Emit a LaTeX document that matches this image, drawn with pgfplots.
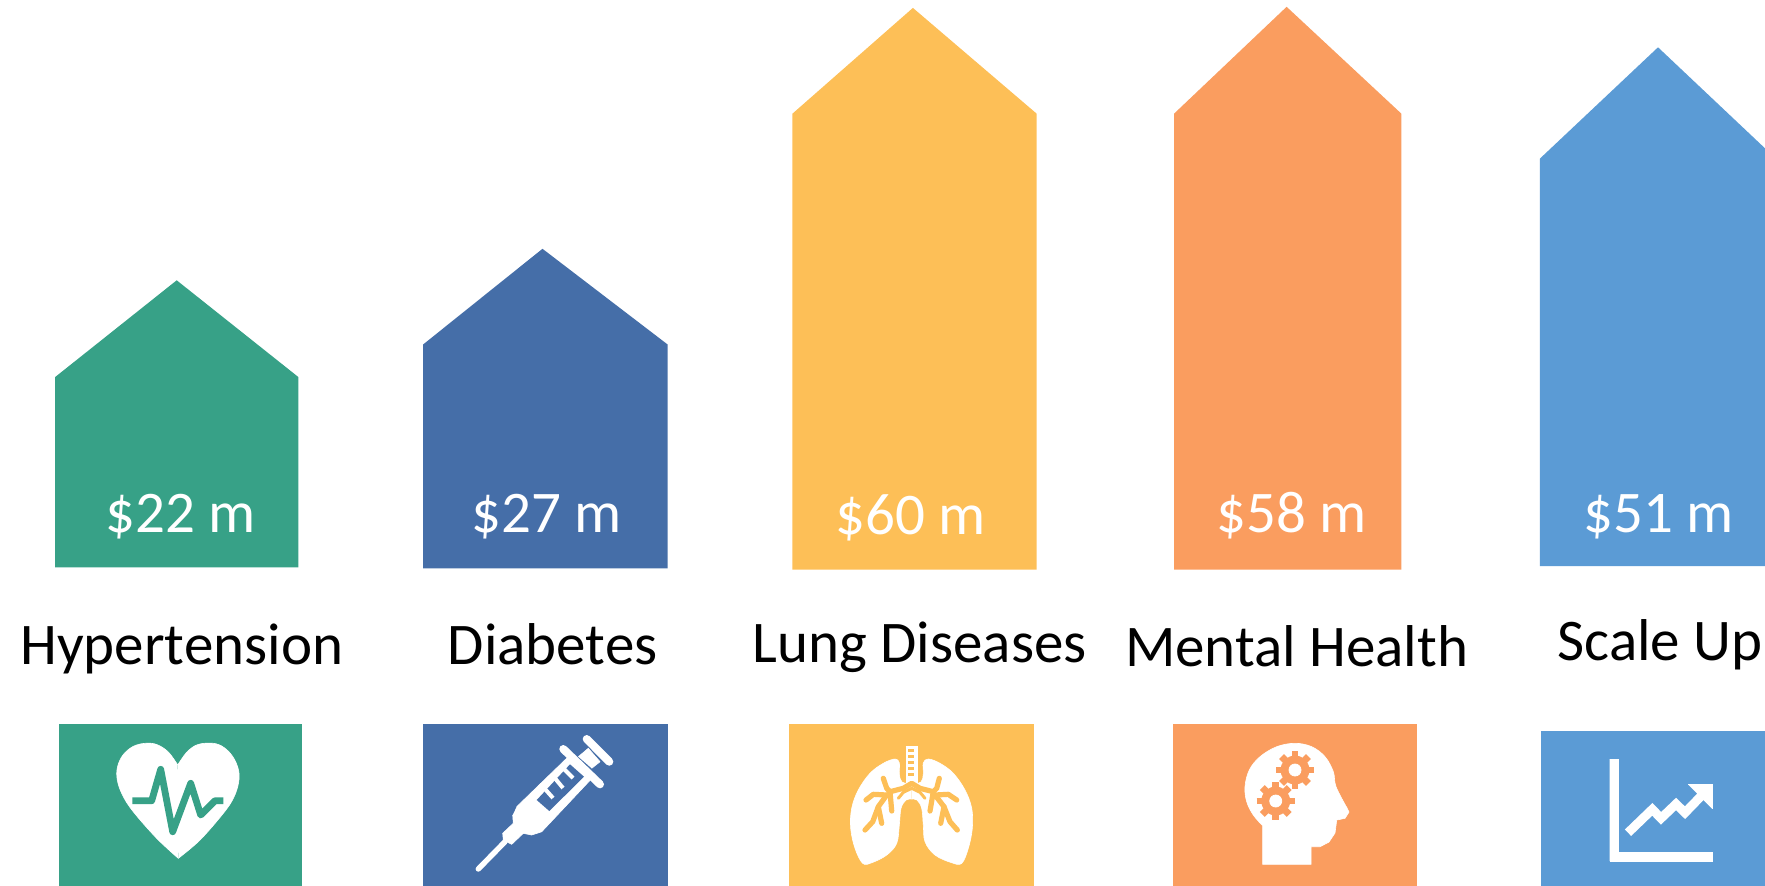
\documentclass[border=0pt]{standalone}
\usepackage{pgfplots}
\pgfplotsset{compat=1.18}
\usepackage{fontspec}
\setmainfont{Carlito}
\definecolor{cGreen}{HTML}{37A187}
\definecolor{cNavy}{HTML}{456EA8}
\definecolor{cYellow}{HTML}{FDBF57}
\definecolor{cOrange}{HTML}{FA9D5F}
\definecolor{cSky}{HTML}{5B9BD5}
\newcommand{\bigtext}{\fontsize{29.5}{32}\selectfont}
\pgfplotsset{
  house/.style={draw=none,fill=#1,mark=none,forget plot},
  glyph/.style={draw=white,line width=0.3pt,fill=white,mark=none,forget plot},
  curved/.style={glyph,smooth,tension=0.6},
  stroke/.style n args={2}{draw=#1,line width=#2,mark=none,forget plot,line join=round,line cap=round},
  tooth/.style={draw=cOrange,line width=3.4pt,mark=none,forget plot},
}
\begin{document}
\begin{tikzpicture}
\path[use as bounding box] (0,0) rectangle (882.5pt,442.5pt);
\begin{axis}[
  at={(0,0)},anchor=south west,
  scale only axis,width=882.5pt,height=442.5pt,
  xmin=0,xmax=1765,ymin=0,ymax=885,y dir=reverse,
  hide axis,
]
% funding arrows
\addplot[house=cGreen] coordinates {(55.2,567.3)(55.2,377)(176.7,280.3)(298.3,377)(298.3,567.3)};
\addplot[house=cNavy] coordinates {(423.2,568.4)(423.2,344.4)(542.5,248.8)(667.5,344.4)(667.5,568.4)};
\addplot[house=cYellow] coordinates {(792.4,569.6)(792.4,113.7)(912.9,7.9)(1036.7,113.7)(1036.7,569.6)};
\addplot[house=cOrange] coordinates {(1174,569.6)(1174,113.7)(1286.6,6.8)(1401.4,113.7)(1401.4,569.6)};
\addplot[house=cSky] coordinates {(1539.8,566.2)(1539.8,158.7)(1658,47.3)(1776,158.7)(1776,566.2)};
% icon tiles
\addplot[house=cGreen] coordinates {(58.5,724)(301.6,724)(301.6,890)(58.5,890)};
\addplot[house=cNavy] coordinates {(423.2,724)(667.5,724)(667.5,890)(423.2,890)};
\addplot[house=cYellow] coordinates {(789,724)(1034.4,724)(1034.4,890)(789,890)};
\addplot[house=cOrange] coordinates {(1172.9,724)(1417.1,724)(1417.1,890)(1172.9,890)};
\addplot[house=cSky] coordinates {(1541.3,731.3)(1770,731.3)(1770,890)(1541.3,890)};
% heart, two lobes, then the pulse trace
\addplot[curved] coordinates {(177.7,765)(168.3,752)(156.7,744.5)(145,743.3)(133,746.5)(123,755)(117.5,767)(117.3,780)(122.5,795)(133.3,811.7)(156.7,838.3)(178.3,858.3)};
\addplot[curved] coordinates {(177.7,765)(187,752)(198,744.5)(213.3,743.3)(224,747.5)(233,757)(238.5,770)(238.5,783)(233.5,798)(223.3,813.3)(200,840)(178.3,858.3)};
\addplot[stroke={white}{1pt}] coordinates {(177.8,770)(178.2,852)};
\addplot[stroke={cGreen}{3.4pt},line cap=butt] coordinates {(132.3,800.7)(151.7,800.7)(160.7,769.3)(172.7,831.7)(190.7,783.3)(200.7,815)(215,800.7)(223.3,800.7)};
% syringe
\addplot[stroke={white}{2.7pt}] coordinates {(478.3,869)(505,841.7)};
\addplot[glyph] coordinates {(516.7,806.7)(568.3,756.7)(595,775)(541.7,831.7)(531.7,835)(523.3,833.3)(511.7,844.3)(503.3,840)(502.7,833.3)(513.3,823.3)(512.7,815)};
\addplot[glyph] coordinates {(578.3,756.7)(588.3,748.3)(600,761.7)(591.7,768.3)};
\addplot[stroke={white}{4pt}] coordinates {(563.3,749)(600,784.3)};
\addplot[stroke={white}{4pt}] coordinates {(586.7,739)(609.3,761.7)};
\addplot[draw=none,fill=cNavy,mark=none,forget plot] coordinates {(570,764.3)(584,776.7)(549.3,811)(536.7,800)};
\addplot[draw=white,line width=2pt,mark=none,forget plot] coordinates {(545,789)(553,798)};
\addplot[draw=white,line width=2pt,mark=none,forget plot] coordinates {(555,778.3)(563,788)};
\addplot[draw=white,line width=2pt,mark=none,forget plot] coordinates {(564,769)(573,778)};
% lungs, one lobe on each side of the windpipe
\addplot[curved] coordinates {(911.7,784)(902,782)(899.3,774)(899.3,763)(895,759)(883.3,763.3)(870,773.3)(858.3,790)(851.7,808.3)(850.7,828.3)(855,848.3)(862.7,863.3)(871.7,862.7)(886.7,855)(896.7,843.3)(899.3,825)(901,808.3)(906,800)(911.7,799)};
\addplot[curved] coordinates {(911.7,784)(921,782)(923.3,774)(923.3,763)(928.3,759)(940,763.3)(953.3,773.3)(965,790)(971.7,808.3)(972.3,828.3)(968.3,848.3)(961.7,863.3)(951.7,862.7)(935,855)(925,841.7)(923.3,825)(921.7,808.3)(917,800)(911.7,799)};
\addplot[glyph] coordinates {(905.7,746)(917.3,746)(917.3,785)(905.7,785)};
\addplot[stroke={cYellow}{2.6pt}] coordinates {(883.3,778.3)(886.7,788.3)(890,791.7)(903.3,788.3)(911.7,783.3)(920,788.3)(933.3,791.7)(936.7,788.3)(939.3,778.3)};
\addplot[stroke={cYellow}{2.6pt}] coordinates {(890,791.7)(891.7,811)};
\addplot[stroke={cYellow}{2.6pt}] coordinates {(933.3,791.7)(930,811)};
\addplot[stroke={cYellow}{2.6pt}] coordinates {(866,800)(873.3,794.3)(886.7,795)};
\addplot[stroke={cYellow}{2.6pt}] coordinates {(956.7,800)(948.3,794.3)(935,795)};
\addplot[stroke={cYellow}{2.6pt}] coordinates {(886.7,795)(878.3,806.7)(872.7,821.7)(865,830)};
\addplot[stroke={cYellow}{2.6pt}] coordinates {(935,795)(944,806.7)(950,821.7)(957.3,830)};
\addplot[stroke={cYellow}{2.6pt}] coordinates {(878.3,806.7)(881.7,823.3)};
\addplot[stroke={cYellow}{2.6pt}] coordinates {(944,806.7)(940.7,823.3)};
\addplot[stroke={cYellow}{1.5pt}] coordinates {(898.3,798.3)(903.3,792.3)(911.7,788.3)(920,792.3)(925,798.3)};
\addplot[draw=none,fill=cYellow,mark=none,forget plot] coordinates {(908.3,749)(914,749)(914,752.3)(908.3,752.3)};
\addplot[draw=none,fill=cYellow,mark=none,forget plot] coordinates {(908.3,755)(914,755)(914,758.3)(908.3,758.3)};
\addplot[draw=none,fill=cYellow,mark=none,forget plot] coordinates {(908.3,761)(914,761)(914,764.3)(908.3,764.3)};
\addplot[draw=none,fill=cYellow,mark=none,forget plot] coordinates {(908.3,767)(914,767)(914,770.3)(908.3,770.3)};
\addplot[draw=none,fill=cYellow,mark=none,forget plot] coordinates {(908.3,773)(914,773)(914,776.3)(908.3,776.3)};
% head with gears
\addplot[curved] coordinates {(1262.7,825.7)(1253.3,815)(1246.7,801.7)(1245,786.7)(1249.3,770)(1260,756.7)(1276.7,746.7)(1295,743.3)(1311.7,746.7)(1325,756.7)(1333.3,771.7)(1336,786.7)(1347,808)};
\addplot[glyph] coordinates {(1262.7,825.7)(1262.7,864.3)(1311,864.3)(1311,846.7)(1320,846.7)(1329,842)(1335,833)(1336.7,820)(1345,818.3)(1349,812)(1347,808)(1320,780)(1280,800)};
\addplot[only marks,color=cOrange,mark=*,mark size=7pt,mark options={solid,fill=cOrange,draw=cOrange},forget plot] coordinates {(1295,770)(1275.7,801)};
\addplot[tooth] coordinates {(1276,770)(1314,770)};
\addplot[tooth] coordinates {(1295,751)(1295,789)};
\addplot[tooth] coordinates {(1281.6,756.6)(1308.4,783.4)};
\addplot[tooth] coordinates {(1281.6,783.4)(1308.4,756.6)};
\addplot[tooth] coordinates {(1256.7,801)(1294.7,801)};
\addplot[tooth] coordinates {(1275.7,782)(1275.7,820)};
\addplot[tooth] coordinates {(1262.3,787.6)(1289.1,814.4)};
\addplot[tooth] coordinates {(1262.3,814.4)(1289.1,787.6)};
\addplot[only marks,color=white,mark=*,mark size=3pt,mark options={solid,fill=white,draw=white},forget plot] coordinates {(1295,770)(1275.7,801)};
% growth chart
\addplot[glyph] coordinates {(1609.7,759)(1618.7,759)(1618.7,852.3)(1712,852.3)(1712,861)(1609.7,861)};
\addplot[stroke={white}{4.5pt},line cap=butt,line join=miter] coordinates {(1628,832.7)(1652.3,809.3)(1661,818.3)(1676,804)(1685,812.7)(1705,792)};
\addplot[glyph] coordinates {(1688.3,784.7)(1712,784.7)(1712,808.7)};
% captions and amounts
\node[anchor=base,inner sep=0pt,text=white,font=\bigtext] at (axis cs:181,532.4) {\$22 m};
\node[anchor=base,inner sep=0pt,text=white,font=\bigtext] at (axis cs:546.5,532.4) {\$27 m};
\node[anchor=base,inner sep=0pt,text=white,font=\bigtext] at (axis cs:911,534.7) {\$60 m};
\node[anchor=base,inner sep=0pt,text=white,font=\bigtext] at (axis cs:1291.6,532.4) {\$58 m};
\node[anchor=base,inner sep=0pt,text=white,font=\bigtext] at (axis cs:1658.6,532.4) {\$51 m};
\node[anchor=base,inner sep=0pt,font=\bigtext] at (axis cs:181.8,664) {Hypertension};
\node[anchor=base,inner sep=0pt,font=\bigtext] at (axis cs:552.7,664) {Diabetes};
\node[anchor=base,inner sep=0pt,font=\bigtext] at (axis cs:919.6,662) {Lung Diseases};
\node[anchor=base,inner sep=0pt,font=\bigtext] at (axis cs:1296.7,666) {Mental Health};
\node[anchor=base,inner sep=0pt,font=\bigtext] at (axis cs:1660,660.5) {Scale Up};
\end{axis}
\end{tikzpicture}
\end{document}
